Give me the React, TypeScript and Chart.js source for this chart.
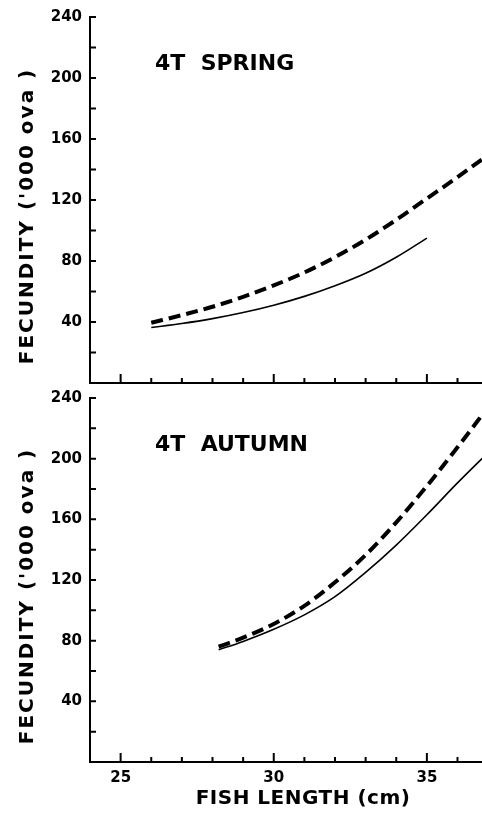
import React, { useEffect, useRef } from 'react';
import { Chart, registerables } from 'chart.js';

Chart.register(...registerables);

// ---- data ----
const springDashedLength = [26, 27, 28, 29, 30, 31, 32, 33, 34, 35, 36, 37];
const springDashedFecundity = [39.5, 44.5, 50, 56.5, 64, 72.5, 82.5, 94, 107, 121, 135, 149.5];
const springSolidLength = [26, 27, 28, 29, 30, 31, 32, 33, 34, 35];
const springSolidFecundity = [36.4, 39, 42.2, 46.2, 51, 56.8, 63.8, 72, 82.5, 95];

const autumnDashedLength = [28.2, 29, 30, 31, 32, 33, 34, 35, 36, 37];
const autumnDashedFecundity = [76, 82, 91, 103, 118.5, 136.5, 158, 182, 207.5, 234];
const autumnSolidLength = [28.2, 29, 30, 31, 32, 33, 34, 35, 36, 37];
const autumnSolidFecundity = [74, 79.5, 87.5, 97, 109, 125, 143, 163, 184, 204];

const xTickLabels = [25, 30, 35];
const xTickMarks = [25, 26, 27, 28, 29, 30, 31, 32, 33, 34, 35, 36];
const yTickLabels = [40, 80, 120, 160, 200, 240];
const yTickMarks = [20, 40, 60, 80, 100, 120, 140, 160, 180, 200, 220, 240];

const panelTitles = ['4T  SPRING', '4T  AUTUMN'];
const yTitle = "FECUNDITY ('000 ova )";
const xTitle = 'FISH LENGTH (cm)';

const FONT = '"DejaVu Sans", "Liberation Sans", Arial, sans-serif';

const toPoints = (xs: number[], ys: number[]) => xs.map((x, i) => ({ x, y: ys[i] }));

const decorPlugin = {
  id: 'decor',
  afterDraw(chart: any, _args: any, opts: any) {
    const { ctx, chartArea, scales } = chart;
    const x = scales.x;
    const y = scales.y;
    ctx.save();
    ctx.strokeStyle = '#000';
    ctx.lineWidth = 2;
    ctx.beginPath();
    for (const v of xTickMarks) {
      const px = x.getPixelForValue(v);
      const len = xTickLabels.includes(v) ? 9 : 5;
      ctx.moveTo(px, chartArea.bottom);
      ctx.lineTo(px, chartArea.bottom - len);
    }
    for (const v of yTickMarks) {
      const py = y.getPixelForValue(v);
      ctx.moveTo(chartArea.left, py);
      ctx.lineTo(chartArea.left + 6, py);
    }
    ctx.stroke();

    ctx.fillStyle = '#000';
    // panel title
    ctx.font = `bold 22px ${FONT}`;
    ctx.textBaseline = 'middle';
    ctx.textAlign = 'left';
    ctx.fillText(opts.title, chartArea.left + 65, chartArea.top + 47);

    // y axis title
    ctx.save();
    ctx.translate(28, (chartArea.top + chartArea.bottom) / 2 + 16);
    ctx.rotate(-Math.PI / 2);
    ctx.textAlign = 'center';
    ctx.textBaseline = 'middle';
    ctx.font = `bold 20px ${FONT}`;
    try { (ctx as any).letterSpacing = '2px'; } catch (e) {}
    ctx.fillText(yTitle, 0, 0);
    ctx.restore();

    if (opts.showXTitle) {
      ctx.save();
      ctx.textAlign = 'center';
      ctx.textBaseline = 'middle';
      ctx.font = `bold 20px ${FONT}`;
      try { (ctx as any).letterSpacing = '0.5px'; } catch (e) {}
      ctx.fillText(xTitle, chartArea.left + 213, chartArea.bottom + 37);
      ctx.restore();
    }
    ctx.restore();
  },
};

function makeChart(
  canvas: HTMLCanvasElement,
  title: string,
  dashed: { x: number; y: number }[],
  solid: { x: number; y: number }[],
  showX: boolean,
  padTop: number,
  xHeight: number
) {
  return new Chart(canvas, {
    type: 'line',
    data: {
      datasets: [
        {
          data: dashed,
          borderColor: '#000',
          borderWidth: 4,
          borderDash: [12, 6],
          pointRadius: 0,
          tension: 0.4,
          cubicInterpolationMode: 'monotone',
          fill: false,
        },
        {
          data: solid,
          borderColor: '#000',
          borderWidth: 1.6,
          pointRadius: 0,
          tension: 0.4,
          cubicInterpolationMode: 'monotone',
          fill: false,
        },
      ],
    },
    options: {
      responsive: false,
      animation: false,
      devicePixelRatio: 1,
      layout: { padding: { top: padTop, left: 0, right: 0, bottom: 0 } },
      plugins: {
        legend: { display: false },
        tooltip: { enabled: false },
        title: { display: false },
        decor: { title, showXTitle: showX },
      } as any,
      scales: {
        x: {
          type: 'linear',
          min: 24,
          max: 36.8,
          grid: { display: false, drawTicks: false },
          border: { display: true, color: '#000', width: 2 },
          ticks: {
            display: showX,
            color: '#000',
            padding: 7,
            maxRotation: 0,
            font: { family: FONT, weight: 'bold', size: 15 },
          },
          afterBuildTicks: (s: any) => {
            s.ticks = xTickLabels.map((v) => ({ value: v }));
          },
          afterFit: (s: any) => {
            s.height = xHeight;
          },
        },
        y: {
          type: 'linear',
          min: 0,
          max: 240,
          grid: { display: false, drawTicks: false },
          border: { display: true, color: '#000', width: 2 },
          ticks: {
            color: '#000',
            padding: 8,
            font: { family: FONT, weight: 'bold', size: 15 },
          },
          afterBuildTicks: (s: any) => {
            s.ticks = yTickLabels.map((v) => ({ value: v }));
          },
          afterFit: (s: any) => {
            s.width = 90;
          },
        },
      },
    },
    plugins: [decorPlugin as any],
  } as any);
}

export default function App() {
  const topRef = useRef<HTMLCanvasElement>(null);
  const botRef = useRef<HTMLCanvasElement>(null);

  useEffect(() => {
    if (!topRef.current || !botRef.current) return;
    const top = makeChart(
      topRef.current,
      panelTitles[0],
      toPoints(springDashedLength, springDashedFecundity),
      toPoints(springSolidLength, springSolidFecundity),
      false,
      17,
      17
    );
    const bot = makeChart(
      botRef.current,
      panelTitles[1],
      toPoints(autumnDashedLength, autumnDashedFecundity),
      toPoints(autumnSolidLength, autumnSolidFecundity),
      true,
      18,
      54
    );
    return () => {
      top.destroy();
      bot.destroy();
    };
  }, []);

  return (
    <div style={{ position: 'fixed', left: 0, top: 0, width: 482, height: 816, background: '#fff' }}>
      <canvas ref={topRef} width={482} height={400} style={{ position: 'absolute', left: 0, top: 0 }} />
      <canvas ref={botRef} width={482} height={436} style={{ position: 'absolute', left: 0, top: 380 }} />
    </div>
  );
}
